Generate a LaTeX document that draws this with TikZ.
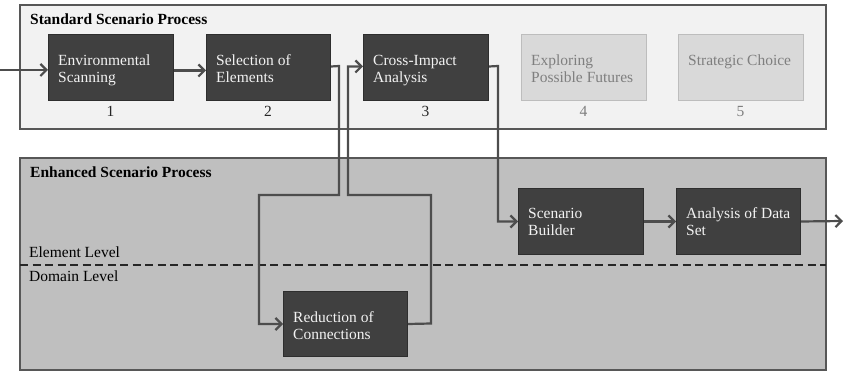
\documentclass[tikz,border=0pt]{standalone}
\usepackage{fontspec}
\setmainfont{Liberation Serif}
\usetikzlibrary{arrows.meta}
\definecolor{conncol}{HTML}{4D4D4D}
\definecolor{boxfill}{HTML}{404040}
\definecolor{boxline}{HTML}{2E2E2E}
\definecolor{boxtext}{HTML}{F2F2F2}
\definecolor{greyfill}{HTML}{D9D9D9}
\definecolor{greyline}{HTML}{BDBDBD}
\definecolor{greytext}{HTML}{7F7F7F}
\definecolor{stdfill}{HTML}{F2F2F2}
\definecolor{enhfill}{HTML}{BFBFBF}
\definecolor{frameline}{HTML}{575757}
\begin{document}
\begin{tikzpicture}[x=1pt,y=-1pt,
  every node/.style={font=\fontsize{15.5}{17.8}\selectfont},
  procbox/.style={draw=boxline,fill=boxfill,line width=1pt,inner sep=0,anchor=north west,minimum width=125pt,minimum height=66pt},
  futbox/.style={draw=greyline,fill=greyfill,line width=1pt,inner sep=0,anchor=north west,minimum width=125pt,minimum height=66pt},
  boxlabel/.style={text=boxtext,inner sep=0,anchor=north west,align=left},
  futlabel/.style={text=greytext,inner sep=0,anchor=north west,align=left},
  numlabel/.style={inner sep=0,anchor=base,text=black!85},
  title/.style={inner sep=0,anchor=base west,font=\fontsize{15.5}{17.8}\selectfont\bfseries},
  levellabel/.style={inner sep=0,anchor=base west},
  conn/.style={draw=conncol,line width=2.2pt,-{Straight Barb[length=6pt,width=12pt]}},
  connplain/.style={draw=conncol,line width=2.2pt}
]
\useasboundingbox (0,0) rectangle (844,371);
% frames
\draw[frameline,fill=stdfill,line width=1.5pt] (20,5) rectangle (826,129);
\draw[frameline,fill=enhfill,line width=1.5pt] (20,158) rectangle (826,370);
\node[title] (ttl1) at (30,25) {Standard Scenario Process};
\node[title] (ttl2) at (30,178) {Enhanced Scenario Process};
\draw[black!85,line width=1.3pt,dash pattern=on 8pt off 4.5pt] (20,265) -- (826,265);
\node[levellabel] (lvl1) at (29,258) {Element Level};
\node[levellabel] (lvl2) at (29,282) {Domain Level};
% standard boxes
\node[procbox] (b1) at (48,34) {};
\node[procbox,minimum width=124pt] (b2) at (206,34) {};
\node[procbox] (b3) at (363,34) {};
\node[futbox] (b4) at (521,34) {};
\node[futbox] (b5) at (678,34) {};
\node[boxlabel] (t1) at (58,52.5) {\strut Environmental\\Scanning};
\node[boxlabel] (t2) at (216,52.5) {\strut Selection of\\Elements};
\node[boxlabel] (t3) at (373,52.5) {\strut Cross-Impact\\Analysis};
\node[futlabel] (t4) at (531,52.5) {\strut Exploring\\Possible Futures};
\node[futlabel] (t5) at (688,52.5) {\strut Strategic Choice};
\node[numlabel] (n1) at (110.5,117) {1};
\node[numlabel] (n2) at (268,117) {2};
\node[numlabel] (n3) at (425.5,117) {3};
\node[numlabel,text=greytext] (n4) at (583.5,117) {4};
\node[numlabel,text=greytext] (n5) at (740.5,117) {5};
% enhanced boxes
\node[procbox,minimum width=124pt,minimum height=65pt] (red) at (283,291) {};
\node[procbox] (sb) at (518,188) {};
\node[procbox,minimum width=124pt] (ad) at (676,188) {};
\node[boxlabel] (tr) at (293,309.5) {\strut Reduction of\\Connections};
\node[boxlabel] (ts) at (528,205.5) {\strut Scenario\\Builder};
\node[boxlabel] (ta) at (686,205.5) {\strut Analysis of Data\\Set};
% connectors
\coordinate (in) at (0,70);
\coordinate (out) at (843,221);
\draw[conn] (in) -- (in -| b1.west);
\draw[conn] ([yshift=-3pt]b1.east) -- ([yshift=-3pt]b2.west);
\draw[conn] ([yshift=1pt]b2.east) -- (339,66) -- (339,195) -- (259,195) |- (red.west);
\draw[conn] (red.east) -- (431,323.5) -- (431,195) -- (348,195) |- ([yshift=1pt]b3.west);
\draw[conn] ([yshift=1pt]b3.east) -- (498,66) |- (sb.west);
\draw[conn] (sb.east) -- (ad.west);
\draw[conn] (ad.east) -- (out);
\end{tikzpicture}
\end{document}
